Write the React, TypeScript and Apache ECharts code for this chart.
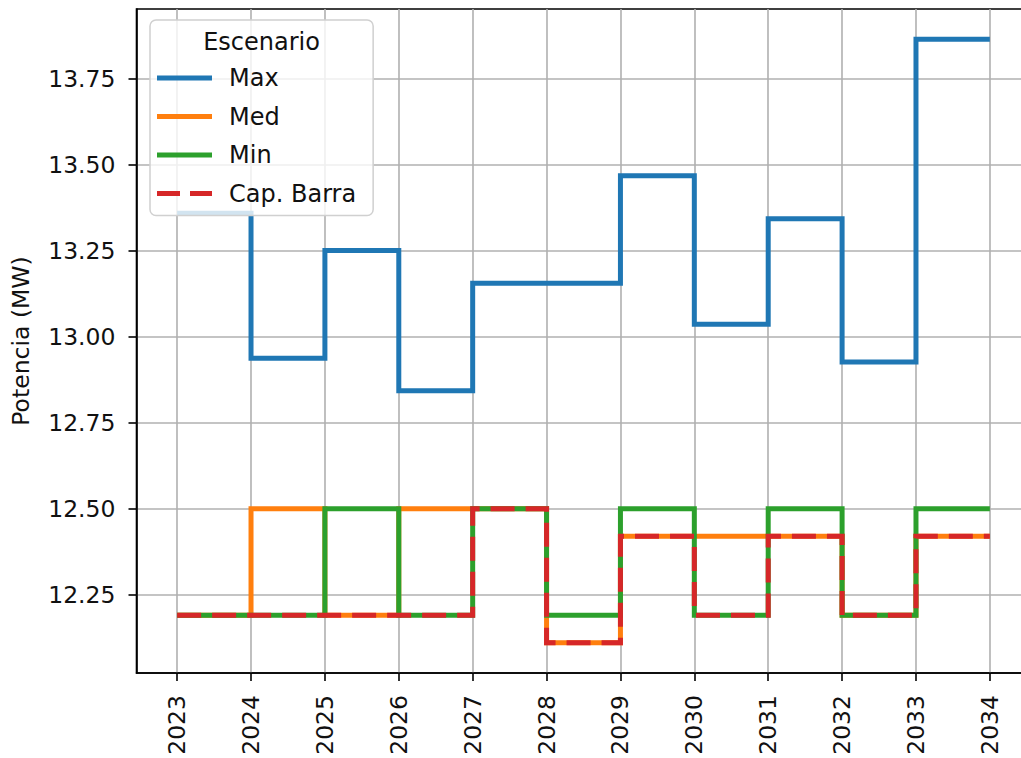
import React, { useEffect, useRef } from "react";
import * as echarts from "echarts";

const years = [2023, 2024, 2025, 2026, 2027, 2028, 2029, 2030, 2031, 2032, 2033, 2034];
const maxValues = [13.36, 12.938, 13.251, 12.843, 13.156, 13.156, 13.469, 13.037, 13.344, 12.927, 13.866, 13.866];
const medValues = [12.19, 12.5, 12.19, 12.5, 12.5, 12.11, 12.42, 12.42, 12.42, 12.19, 12.42, 12.42];
const minValues = [12.19, 12.19, 12.5, 12.19, 12.5, 12.19, 12.5, 12.19, 12.5, 12.19, 12.5, 12.5];
const capValues = [12.19, 12.19, 12.19, 12.19, 12.5, 12.11, 12.42, 12.19, 12.42, 12.19, 12.42, 12.42];
const yTicks = [12.25, 12.5, 12.75, 13.0, 13.25, 13.5, 13.75];
const seriesNames = ["Max", "Med", "Min", "Cap. Barra"];
const legendTitle = "Escenario";
const yAxisTitle = "Potencia (MW)";

const FONT = "DejaVu Sans";
const SOLID_ICON = "path://M0,0H55V5H0Z";
const DASH_ICON = "path://M0,0H23V5H0Z M33,0H55V5H33Z";

export default function App() {
  const ref = useRef<HTMLDivElement>(null);
  useEffect(() => {
    if (!ref.current) return;
    const chart = echarts.init(ref.current, undefined, { renderer: "svg" });
    const pairs = (vals: number[]) => years.map((y, i) => [y, vals[i]]);
    const colors = ["#1f77b4", "#ff7f0e", "#2ca02c", "#d62728"];
    const valueSets = [maxValues, medValues, minValues, capValues];
    chart.setOption({
      animation: false,
      backgroundColor: "#ffffff",
      grid: {
        left: 136.5,
        top: 9,
        width: 894,
        height: 664,
        outerBoundsMode: "none",
        containLabel: false,
        show: true,
        borderColor: "#000",
        borderWidth: 1.6,
        backgroundColor: "transparent",
      },
      xAxis: {
        type: "value",
        min: 2022.45,
        max: 2034.55,
        axisLine: { show: true, lineStyle: { color: "#000", width: 1.6 } },
        axisTick: { show: true, length: 8, inside: false, customValues: years, lineStyle: { color: "#000", width: 1.6 } },
        axisLabel: {
          customValues: years,
          rotate: 90,
          margin: 22,
          fontFamily: FONT,
          fontSize: 23.5,
          color: "#111",
          formatter: (v: number) => String(Math.round(v)),
        },
        splitLine: { show: true, lineStyle: { color: "#b0b0b0", width: 1.6 } },
      },
      yAxis: {
        type: "value",
        min: 12.022,
        max: 13.954,
        name: yAxisTitle,
        nameLocation: "middle",
        nameGap: 104,
        nameRotate: 90,
        nameTextStyle: { fontFamily: FONT, fontSize: 23.5, color: "#111" },
        axisLine: { show: true, lineStyle: { color: "#000", width: 1.6 } },
        axisTick: { show: true, length: 8, inside: false, customValues: yTicks, lineStyle: { color: "#000", width: 1.6 } },
        axisLabel: {
          customValues: yTicks,
          margin: 21,
          fontFamily: FONT,
          fontSize: 23.5,
          color: "#111",
          formatter: (v: number) => v.toFixed(2),
        },
        splitLine: { show: true, lineStyle: { color: "#b0b0b0", width: 1.6 } },
      },
      legend: {
        orient: "vertical",
        left: 150,
        top: 20,
        padding: [46, 17, 10, 7],
        itemWidth: 55,
        itemHeight: 24,
        itemGap: 14.5,
        symbolKeepAspect: true,
        backgroundColor: "rgba(255,255,255,0.8)",
        borderColor: "#d0d0d0",
        borderWidth: 1.5,
        borderRadius: 6,
        textStyle: { fontFamily: FONT, fontSize: 24, color: "#111", padding: [0, 0, 0, 12], lineHeight: 24 },
        data: seriesNames.map((name, i) => ({
          name,
          icon: i === 3 ? DASH_ICON : SOLID_ICON,
          itemStyle: { color: colors[i], borderWidth: 0 },
        })),
      },
      graphic: [
        {
          type: "text",
          x: 261.5,
          y: 42,
          z: 100,
          style: {
            text: legendTitle,
            font: `24px "${FONT}"`,
            fill: "#111",
            align: "center",
            verticalAlign: "middle",
          },
        },
      ],
      series: seriesNames.map((name, i) => ({
        name,
        type: "line",
        step: "end",
        symbol: "none",
        data: pairs(valueSets[i]),
        z: 2 + i,
        lineStyle: {
          color: colors[i],
          width: 5,
          type: i === 3 ? [24, 11] : "solid",
          cap: "butt",
          join: "miter",
        },
        itemStyle: { color: colors[i] },
      })),
    });
    return () => chart.dispose();
  }, []);
  return <div ref={ref} style={{ position: "fixed", left: 0, top: 0, width: 1021, height: 758 }} />;
}
